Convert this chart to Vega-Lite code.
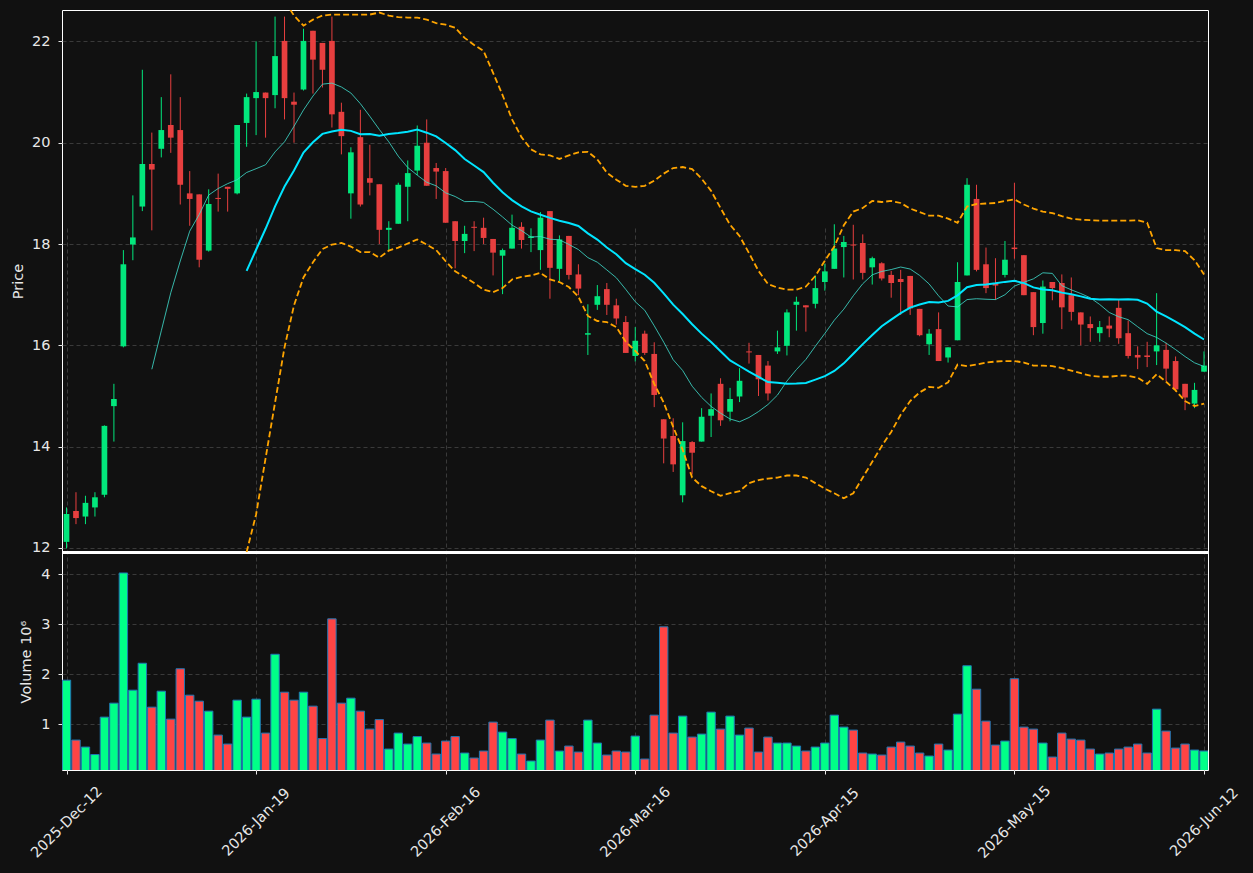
{
"$schema": "https://vega.github.io/schema/vega-lite/v6.json",
"background": "#111111",
"autosize": {"type": "none"},
"padding": {"left": 62, "top": 10, "right": 45, "bottom": 103},
"width": 1146,
"height": 760,
"config": {
  "view": {"stroke": "#ffffff", "strokeWidth": 1},
  "axis": {"labelColor": "#e8e8e8", "titleColor": "#e8e8e8", "tickColor": "#e8e8e8", "domain": false, "gridColor": "#3a3a3a", "gridDash": [4, 3], "gridWidth": 1, "labelFont": "DejaVu Sans", "titleFont": "DejaVu Sans", "labelFontSize": 14.5, "titleFontSize": 14.5, "titleFontWeight": "normal", "tickSize": 4, "labelPadding": 8}
},
"data": {"values": [
{"i":0,"o":12.12,"h":12.80,"l":11.99,"c":12.67,"v":1.88},
{"i":1,"o":12.73,"h":13.10,"l":12.47,"c":12.59,"v":0.68},
{"i":2,"o":12.62,"h":13.03,"l":12.47,"c":12.89,"v":0.54},
{"i":3,"o":12.80,"h":13.10,"l":12.62,"c":13.00,"v":0.39},
{"i":4,"o":13.05,"h":14.42,"l":13.00,"c":14.41,"v":1.14},
{"i":5,"o":14.80,"h":15.24,"l":14.10,"c":14.94,"v":1.42},
{"i":6,"o":15.98,"h":17.88,"l":15.96,"c":17.60,"v":4.03},
{"i":7,"o":17.99,"h":18.96,"l":17.68,"c":18.13,"v":1.68},
{"i":8,"o":18.74,"h":21.44,"l":18.65,"c":19.58,"v":2.22},
{"i":9,"o":19.58,"h":20.20,"l":18.27,"c":19.47,"v":1.34},
{"i":10,"o":19.88,"h":20.90,"l":19.71,"c":20.25,"v":1.66},
{"i":11,"o":20.35,"h":21.35,"l":19.80,"c":20.10,"v":1.10},
{"i":12,"o":20.25,"h":20.90,"l":18.78,"c":19.17,"v":2.11},
{"i":13,"o":19.00,"h":19.44,"l":18.36,"c":18.89,"v":1.58},
{"i":14,"o":18.98,"h":18.98,"l":17.54,"c":17.69,"v":1.46},
{"i":15,"o":17.87,"h":19.08,"l":17.85,"c":18.79,"v":1.26},
{"i":16,"o":18.91,"h":19.39,"l":18.64,"c":18.89,"v":0.78},
{"i":17,"o":19.13,"h":19.13,"l":18.64,"c":19.09,"v":0.60},
{"i":18,"o":19.00,"h":20.35,"l":18.98,"c":20.35,"v":1.48},
{"i":19,"o":20.39,"h":20.97,"l":19.92,"c":20.90,"v":1.14,"ub":23.25,"lb":11.69},
{"i":20,"o":20.88,"h":22.00,"l":20.15,"c":21.00,"v":1.50,"ub":23.35,"lb":12.66},
{"i":21,"o":20.99,"h":20.99,"l":20.10,"c":20.88,"v":0.82,"ub":23.30,"lb":13.77},
{"i":22,"o":20.94,"h":22.49,"l":20.68,"c":21.71,"v":2.40,"ub":23.10,"lb":14.87},
{"i":23,"o":22.01,"h":22.49,"l":20.46,"c":20.88,"v":1.64,"ub":22.80,"lb":15.96},
{"i":24,"o":20.81,"h":20.99,"l":20.00,"c":20.75,"v":1.48,"ub":22.51,"lb":16.79},
{"i":25,"o":21.05,"h":22.25,"l":21.03,"c":22.01,"v":1.64,"ub":22.31,"lb":17.34},
{"i":26,"o":22.21,"h":22.21,"l":20.97,"c":21.64,"v":1.36,"ub":22.43,"lb":17.64},
{"i":27,"o":21.97,"h":21.97,"l":21.09,"c":21.44,"v":0.71,"ub":22.51,"lb":17.90},
{"i":28,"o":22.01,"h":22.49,"l":20.30,"c":20.56,"v":3.11,"ub":22.53,"lb":17.99},
{"i":29,"o":20.61,"h":20.79,"l":19.77,"c":20.13,"v":1.42,"ub":22.53,"lb":18.02},
{"i":30,"o":19.00,"h":19.91,"l":18.50,"c":19.81,"v":1.52,"ub":22.53,"lb":17.95},
{"i":31,"o":20.11,"h":20.65,"l":18.74,"c":18.78,"v":1.26,"ub":22.53,"lb":17.84},
{"i":32,"o":19.30,"h":19.96,"l":18.96,"c":19.21,"v":0.90,"ub":22.53,"lb":17.84},
{"i":33,"o":19.18,"h":19.18,"l":18.00,"c":18.28,"v":1.09,"ub":22.57,"lb":17.73},
{"i":34,"o":18.28,"h":18.45,"l":17.88,"c":18.32,"v":0.50,"ub":22.51,"lb":17.87},
{"i":35,"o":18.40,"h":19.21,"l":18.40,"c":19.17,"v":0.82,"ub":22.48,"lb":17.93},
{"i":36,"o":19.13,"h":19.65,"l":18.45,"c":19.40,"v":0.60,"ub":22.47,"lb":18.01},
{"i":37,"o":19.45,"h":20.34,"l":19.36,"c":19.94,"v":0.75,"ub":22.47,"lb":18.09},
{"i":38,"o":20.00,"h":20.46,"l":19.15,"c":19.15,"v":0.62,"ub":22.43,"lb":17.99},
{"i":39,"o":19.50,"h":19.60,"l":18.89,"c":19.43,"v":0.40,"ub":22.36,"lb":17.88},
{"i":40,"o":19.44,"h":19.50,"l":18.42,"c":18.42,"v":0.66,"ub":22.33,"lb":17.66},
{"i":41,"o":18.45,"h":18.45,"l":17.52,"c":18.06,"v":0.75,"ub":22.27,"lb":17.46},
{"i":42,"o":18.06,"h":18.36,"l":17.82,"c":18.20,"v":0.42,"ub":22.07,"lb":17.35},
{"i":43,"o":18.34,"h":18.45,"l":17.86,"c":18.32,"v":0.32,"ub":21.93,"lb":17.23},
{"i":44,"o":18.32,"h":18.52,"l":18.00,"c":18.12,"v":0.46,"ub":21.81,"lb":17.10},
{"i":45,"o":18.10,"h":18.10,"l":17.38,"c":17.83,"v":1.04,"ub":21.38,"lb":17.05},
{"i":46,"o":17.77,"h":17.91,"l":17.01,"c":17.88,"v":0.84,"ub":20.94,"lb":17.13},
{"i":47,"o":17.91,"h":18.58,"l":17.91,"c":18.32,"v":0.71,"ub":20.46,"lb":17.30},
{"i":48,"o":18.34,"h":18.43,"l":17.91,"c":18.08,"v":0.40,"ub":20.11,"lb":17.35},
{"i":49,"o":18.12,"h":18.31,"l":17.84,"c":18.15,"v":0.26,"ub":19.87,"lb":17.38},
{"i":50,"o":17.88,"h":18.63,"l":17.49,"c":18.52,"v":0.68,"ub":19.77,"lb":17.43},
{"i":51,"o":18.65,"h":18.65,"l":16.92,"c":17.53,"v":1.08,"ub":19.75,"lb":17.30},
{"i":52,"o":17.51,"h":18.17,"l":17.27,"c":18.09,"v":0.46,"ub":19.68,"lb":17.25},
{"i":53,"o":18.16,"h":18.16,"l":17.30,"c":17.39,"v":0.56,"ub":19.75,"lb":17.15},
{"i":54,"o":17.40,"h":17.60,"l":16.99,"c":17.12,"v":0.44,"ub":19.81,"lb":16.96},
{"i":55,"o":16.21,"h":16.81,"l":15.81,"c":16.24,"v":1.08,"ub":19.82,"lb":16.58},
{"i":56,"o":16.80,"h":17.19,"l":16.70,"c":16.97,"v":0.62,"ub":19.67,"lb":16.48},
{"i":57,"o":17.11,"h":17.23,"l":16.60,"c":16.80,"v":0.38,"ub":19.41,"lb":16.46},
{"i":58,"o":16.79,"h":16.92,"l":16.41,"c":16.53,"v":0.46,"ub":19.27,"lb":16.36},
{"i":59,"o":16.46,"h":16.58,"l":15.85,"c":15.85,"v":0.44,"ub":19.15,"lb":16.07},
{"i":60,"o":15.79,"h":16.36,"l":15.68,"c":16.09,"v":0.76,"ub":19.13,"lb":15.89},
{"i":61,"o":16.23,"h":16.29,"l":15.81,"c":15.85,"v":0.30,"ub":19.15,"lb":15.69},
{"i":62,"o":15.83,"h":16.06,"l":14.78,"c":15.02,"v":1.18,"ub":19.25,"lb":15.24},
{"i":63,"o":14.54,"h":14.54,"l":13.67,"c":14.16,"v":2.95,"ub":19.39,"lb":14.87},
{"i":64,"o":14.21,"h":14.56,"l":13.50,"c":13.65,"v":0.82,"ub":19.50,"lb":14.39},
{"i":65,"o":13.04,"h":14.48,"l":12.90,"c":14.11,"v":1.16,"ub":19.52,"lb":13.94},
{"i":66,"o":14.09,"h":14.11,"l":13.45,"c":13.88,"v":0.74,"ub":19.48,"lb":13.39},
{"i":67,"o":14.10,"h":14.76,"l":14.10,"c":14.59,"v":0.80,"ub":19.29,"lb":13.22},
{"i":68,"o":14.61,"h":15.05,"l":14.19,"c":14.74,"v":1.24,"ub":19.05,"lb":13.12},
{"i":69,"o":15.24,"h":15.35,"l":14.41,"c":14.52,"v":0.90,"ub":18.71,"lb":13.03},
{"i":70,"o":14.69,"h":15.16,"l":14.50,"c":14.94,"v":1.16,"ub":18.38,"lb":13.08},
{"i":71,"o":14.99,"h":15.55,"l":14.88,"c":15.30,"v":0.78,"ub":18.16,"lb":13.12},
{"i":72,"o":15.88,"h":16.05,"l":15.64,"c":15.86,"v":0.92,"ub":17.82,"lb":13.28},
{"i":73,"o":15.81,"h":15.81,"l":15.00,"c":15.33,"v":0.44,"ub":17.47,"lb":13.34},
{"i":74,"o":15.60,"h":15.69,"l":14.91,"c":15.05,"v":0.74,"ub":17.21,"lb":13.37},
{"i":75,"o":15.88,"h":16.29,"l":15.83,"c":15.96,"v":0.62,"ub":17.14,"lb":13.39},
{"i":76,"o":15.99,"h":16.71,"l":15.80,"c":16.65,"v":0.62,"ub":17.10,"lb":13.43},
{"i":77,"o":16.80,"h":16.96,"l":16.29,"c":16.86,"v":0.56,"ub":17.10,"lb":13.43},
{"i":78,"o":16.79,"h":16.79,"l":16.27,"c":16.75,"v":0.46,"ub":17.16,"lb":13.39},
{"i":79,"o":16.82,"h":17.38,"l":16.73,"c":17.13,"v":0.54,"ub":17.37,"lb":13.28},
{"i":80,"o":17.25,"h":17.61,"l":17.08,"c":17.46,"v":0.62,"ub":17.67,"lb":13.17},
{"i":81,"o":17.51,"h":18.39,"l":17.51,"c":17.91,"v":1.18,"ub":17.95,"lb":13.08},
{"i":82,"o":17.94,"h":18.16,"l":17.34,"c":18.04,"v":0.94,"ub":18.37,"lb":12.98},
{"i":83,"o":17.99,"h":18.38,"l":17.30,"c":17.97,"v":0.88,"ub":18.64,"lb":13.08},
{"i":84,"o":18.02,"h":18.19,"l":17.30,"c":17.43,"v":0.42,"ub":18.71,"lb":13.39},
{"i":85,"o":17.54,"h":17.75,"l":17.20,"c":17.72,"v":0.40,"ub":18.85,"lb":13.70},
{"i":86,"o":17.62,"h":17.64,"l":17.28,"c":17.32,"v":0.38,"ub":18.83,"lb":14.01},
{"i":87,"o":17.39,"h":17.47,"l":16.94,"c":17.23,"v":0.54,"ub":18.85,"lb":14.29},
{"i":88,"o":17.31,"h":17.49,"l":16.60,"c":17.25,"v":0.64,"ub":18.81,"lb":14.63},
{"i":89,"o":17.37,"h":17.37,"l":16.60,"c":16.73,"v":0.56,"ub":18.70,"lb":14.90},
{"i":90,"o":16.72,"h":16.72,"l":16.18,"c":16.20,"v":0.42,"ub":18.63,"lb":15.07},
{"i":91,"o":16.02,"h":16.32,"l":15.81,"c":16.23,"v":0.36,"ub":18.56,"lb":15.18},
{"i":92,"o":16.32,"h":16.65,"l":15.69,"c":15.69,"v":0.60,"ub":18.56,"lb":15.16},
{"i":93,"o":15.76,"h":15.96,"l":15.66,"c":15.96,"v":0.48,"ub":18.50,"lb":15.27},
{"i":94,"o":16.10,"h":17.64,"l":16.10,"c":17.25,"v":1.20,"ub":18.42,"lb":15.62},
{"i":95,"o":17.38,"h":19.30,"l":17.38,"c":19.17,"v":2.17,"ub":18.74,"lb":15.59},
{"i":96,"o":18.89,"h":19.17,"l":17.46,"c":17.49,"v":1.70,"ub":18.79,"lb":15.62},
{"i":97,"o":17.60,"h":17.93,"l":17.03,"c":17.13,"v":1.06,"ub":18.80,"lb":15.66},
{"i":98,"o":17.22,"h":17.72,"l":16.90,"c":17.18,"v":0.58,"ub":18.81,"lb":15.68},
{"i":99,"o":17.39,"h":18.06,"l":17.34,"c":17.69,"v":0.66,"ub":18.85,"lb":15.69},
{"i":100,"o":17.93,"h":19.21,"l":17.71,"c":17.90,"v":1.91,"ub":18.88,"lb":15.69},
{"i":101,"o":17.78,"h":17.78,"l":16.99,"c":16.99,"v":0.94,"ub":18.78,"lb":15.66},
{"i":102,"o":17.05,"h":17.05,"l":16.20,"c":16.36,"v":0.90,"ub":18.70,"lb":15.60},
{"i":103,"o":16.44,"h":17.28,"l":16.23,"c":17.16,"v":0.62,"ub":18.64,"lb":15.60},
{"i":104,"o":17.25,"h":17.25,"l":16.89,"c":17.13,"v":0.34,"ub":18.61,"lb":15.59},
{"i":105,"o":17.23,"h":17.40,"l":16.32,"c":16.75,"v":0.82,"ub":18.55,"lb":15.55},
{"i":106,"o":16.99,"h":17.34,"l":16.49,"c":16.66,"v":0.70,"ub":18.50,"lb":15.50},
{"i":107,"o":16.65,"h":16.65,"l":16.00,"c":16.41,"v":0.68,"ub":18.48,"lb":15.45},
{"i":108,"o":16.42,"h":16.57,"l":16.07,"c":16.34,"v":0.50,"ub":18.47,"lb":15.40},
{"i":109,"o":16.24,"h":16.48,"l":16.07,"c":16.36,"v":0.40,"ub":18.46,"lb":15.38},
{"i":110,"o":16.39,"h":16.57,"l":16.16,"c":16.33,"v":0.42,"ub":18.46,"lb":15.38},
{"i":111,"o":16.74,"h":16.90,"l":16.03,"c":16.14,"v":0.50,"ub":18.46,"lb":15.40},
{"i":112,"o":16.24,"h":16.49,"l":15.74,"c":15.79,"v":0.54,"ub":18.46,"lb":15.40},
{"i":113,"o":15.81,"h":15.98,"l":15.53,"c":15.76,"v":0.60,"ub":18.47,"lb":15.36},
{"i":114,"o":15.80,"h":16.07,"l":15.57,"c":15.77,"v":0.42,"ub":18.42,"lb":15.24},
{"i":115,"o":15.88,"h":17.03,"l":15.61,"c":16.00,"v":1.30,"ub":17.92,"lb":15.43},
{"i":116,"o":15.91,"h":16.05,"l":15.29,"c":15.54,"v":0.86,"ub":17.88,"lb":15.28},
{"i":117,"o":15.69,"h":15.78,"l":15.09,"c":15.13,"v":0.52,"ub":17.88,"lb":15.11},
{"i":118,"o":15.24,"h":15.24,"l":14.72,"c":14.97,"v":0.60,"ub":17.86,"lb":14.90},
{"i":119,"o":14.85,"h":15.26,"l":14.76,"c":15.12,"v":0.48,"ub":17.68,"lb":14.80},
{"i":120,"o":15.48,"h":15.88,"l":15.48,"c":15.60,"v":0.46,"ub":17.40,"lb":14.85}
]},
"encoding": {
  "x": {"field": "i", "type": "quantitative", "scale": {"domain": [-0.475, 120.42], "nice": false, "zero": false, "padding": 0},
        "axis": {"values": [0, 20, 40, 60, 80, 100, 120], "grid": true, "title": null,
                 "labelExpr": "['2025-Dec-12','2026-Jan-19','2026-Feb-16','2026-Mar-16','2026-Apr-15','2026-May-15','2026-Jun-12'][round(datum.value/20)]",
                 "labelAngle": -45, "labelAlign": "center", "labelBaseline": "middle", "labelPadding": 48, "labelFlush": false, "labelOverlap": false, "labelBound": false}}
},
"layer": [
  {
    "layer": [
      {"mark": {"type": "rule", "strokeWidth": 1},
       "encoding": {
         "y": {"field": "l", "type": "quantitative", "scale": {"domain": [11.92, 22.62], "range": [542, 0], "nice": false, "zero": false},
               "axis": {"values": [12, 14, 16, 18, 20, 22], "format": "d", "title": "Price", "titlePadding": 6, "grid": true, "orient": "left"}},
         "y2": {"field": "h"},
         "color": {"condition": {"test": "datum.c >= datum.o", "value": "#02e77c"}, "value": "#e73f3f"}
       }},
      {"mark": {"type": "bar", "size": 5.7},
       "encoding": {
         "y": {"field": "o", "type": "quantitative"},
         "y2": {"field": "c"},
         "color": {"condition": {"test": "datum.c >= datum.o", "value": "#02e77c"}, "value": "#e73f3f"}
       }},
      {"transform": [{"window": [{"op": "mean", "field": "c", "as": "ma10"}, {"op": "count", "as": "n10"}], "frame": [-9, 0], "sort": [{"field": "i"}]}, {"filter": "datum.n10 >= 10"}],
       "mark": {"type": "line", "color": "#40e0d0", "strokeWidth": 1, "opacity": 0.8, "clip": true},
       "encoding": {"y": {"field": "ma10", "type": "quantitative"}}},
      {"transform": [{"window": [{"op": "mean", "field": "c", "as": "ma20"}, {"op": "count", "as": "n20"}], "frame": [-19, 0], "sort": [{"field": "i"}]}, {"filter": "datum.n20 >= 20"}],
       "mark": {"type": "line", "color": "#00e5ff", "strokeWidth": 2, "clip": true},
       "encoding": {"y": {"field": "ma20", "type": "quantitative"}}},
      {"mark": {"type": "line", "color": "#ffa500", "strokeWidth": 1.8, "strokeDash": [6, 3], "clip": true},
       "encoding": {"y": {"field": "ub", "type": "quantitative"}}},
      {"mark": {"type": "rule", "color": "#ffffff", "strokeWidth": 1},
       "encoding": {"y": {"datum": 11.92}, "x": null}}
    ]
  },
  {"mark": {"type": "line", "color": "#ffa500", "strokeWidth": 1.8, "strokeDash": [6, 3], "clip": true},
   "encoding": {"y": {"field": "lb", "type": "quantitative", "scale": {"domain": [11.92, 22.62], "range": [542, 0], "nice": false, "zero": false, "clamp": true}, "axis": null}}},
  {
    "layer": [
      {"mark": {"type": "bar", "size": 8.4, "stroke": "#1f77b4", "strokeWidth": 1, "clip": true},
       "encoding": {
         "y": {"field": "v", "type": "quantitative", "scale": {"domain": [0.08, 4.43], "range": [760, 543], "nice": false, "zero": false},
               "axis": {"values": [1, 2, 3, 4], "format": "d", "title": "Volume  10⁶", "titlePadding": 7.5, "grid": true, "orient": "left"}},
         "y2": {"datum": 0},
         "color": {"condition": {"test": "datum.c >= datum.o", "value": "#00ff88"}, "value": "#ff4444"}
       }},
      {"mark": {"type": "rule", "color": "#ffffff", "strokeWidth": 1},
       "encoding": {"y": {"datum": 4.43}, "x": null}}
    ]
  }
],
"resolve": {"scale": {"y": "independent"}, "axis": {"y": "independent"}}
}
